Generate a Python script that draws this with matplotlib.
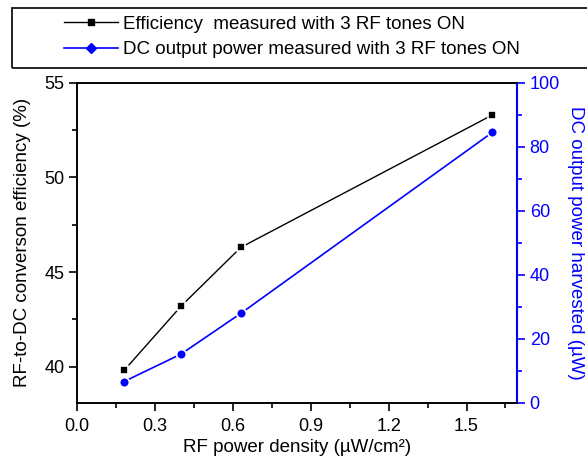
import matplotlib
matplotlib.use("Agg")
import matplotlib.pyplot as plt
from matplotlib.ticker import MultipleLocator
from matplotlib.lines import Line2D
from matplotlib.patches import Rectangle

plt.rcParams['font.family'] = ['Liberation Sans', 'DejaVu Sans']

power_density = [0.18, 0.40, 0.63, 1.60]
efficiency = [39.8, 43.2, 46.3, 53.3]
dc_power = [6.6, 15.2, 27.9, 84.5]

eff_label = "Efficiency  measured with 3 RF tones ON"
dc_label = "DC output power measured with 3 RF tones ON"

fig = plt.figure(figsize=(5.87, 4.62), dpi=100)
ax = fig.add_axes([0.1317, 0.1284, 0.881 - 0.1317, 0.821 - 0.1284])
ax2 = ax.twinx()

ax.plot(power_density, efficiency, color='black', lw=1.0, marker='s', ms=6,
        mfc='black', mec='white', mew=1.2)
ax2.plot(power_density, dc_power, color='#0000ff', lw=1.2, marker='o', ms=7,
         mfc='#0000ff', mec='white', mew=1.2)

ax.set_xlim(0, 1.695)
ax.set_ylim(38.1, 55)
ax2.set_ylim(0, 100)

ax.xaxis.set_major_locator(MultipleLocator(0.3))
ax.xaxis.set_minor_locator(MultipleLocator(0.15))
ax.yaxis.set_major_locator(MultipleLocator(5))
ax.yaxis.set_minor_locator(MultipleLocator(2.5))
ax2.yaxis.set_major_locator(MultipleLocator(20))
ax2.yaxis.set_minor_locator(MultipleLocator(10))

ax.set_xticklabels([f"{v:.1f}" for v in ax.get_xticks()])

for a in (ax, ax2):
    a.tick_params(which='major', direction='out', length=6, width=1.2, labelsize=13)
    a.tick_params(which='minor', direction='out', length=3.5, width=1.2)
ax.tick_params(axis='y', which='both', right=False, pad=3)
ax.tick_params(axis='x', which='both', top=False, pad=5)
ax2.tick_params(axis='y', which='both', colors='#0000ff', labelcolor='#0000ff', pad=3)

for s in ('left', 'bottom', 'top'):
    ax.spines[s].set_linewidth(1.2)
    ax2.spines[s].set_linewidth(1.2)
ax2.spines['right'].set_color('#0000ff')
ax2.spines['right'].set_linewidth(1.5)
ax.spines['right'].set_visible(False)

ax.set_xlabel("RF power density (\u00b5W/cm\u00b2)", fontsize=13.5, labelpad=3)
ax.set_ylabel("RF-to-DC converson efficiency (%)", fontsize=13.5, labelpad=10)
ax2.set_ylabel("DC output power harvested (\u00b5W)", fontsize=13.5, color='#0000ff',
               rotation=270, labelpad=17)

# legend box
fig.patches.append(Rectangle((12/587, 1 - 68/462), 1.0, 60/462, transform=fig.transFigure,
                             fill=False, edgecolor='black', lw=1.2, clip_on=False))
handles = [
    Line2D([], [], color='black', lw=1.0, marker='s', ms=5, mfc='black', mec='black'),
    Line2D([], [], color='#0000ff', lw=1.2, marker='D', ms=5, mfc='#0000ff', mec='#0000ff'),
]
fig.legend(handles, [eff_label, dc_label], loc='center left',
           bbox_to_anchor=(47/587, 1 - 37/462), frameon=False, fontsize=13.5,
           handlelength=2.9, handletextpad=0.25, labelspacing=0.45)

fig.savefig("out.png", dpi=100)
